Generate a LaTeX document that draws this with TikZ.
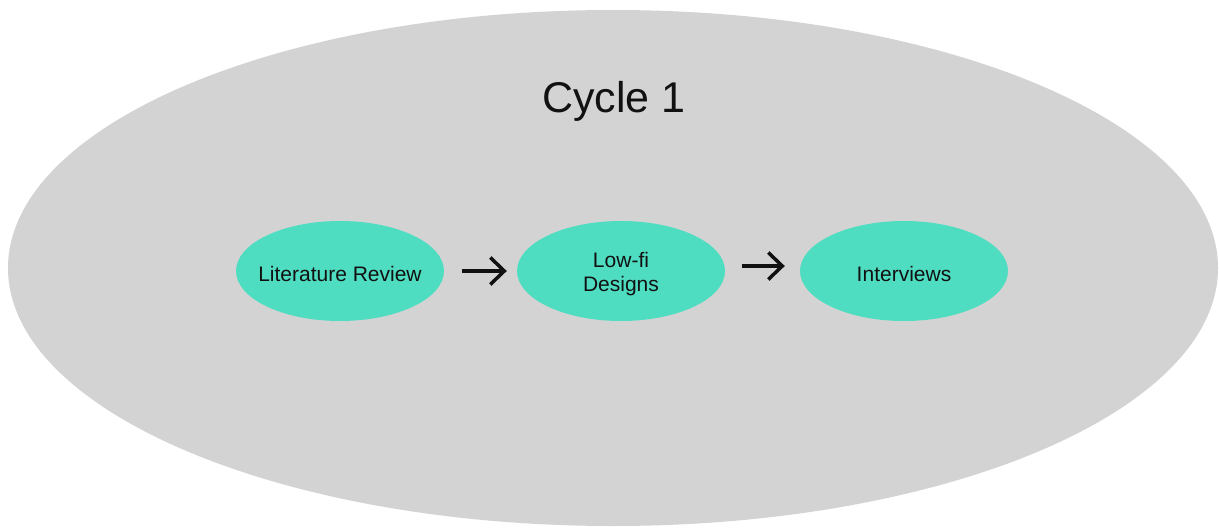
\documentclass[tikz,border=0pt]{standalone}
\usepackage{fontspec}
\setmainfont{Liberation Sans}
\usetikzlibrary{shapes.geometric,arrows.meta}

\definecolor{cyclegray}{RGB}{211,211,211}
\definecolor{steponteal}{RGB}{79,221,194}
\definecolor{inkdark}{RGB}{17,17,17}

\tikzset{
  cycleshape/.style={ellipse, fill=cyclegray, draw=none,
    minimum width=1210pt, minimum height=516pt, inner sep=0pt},
  stagebox/.style={ellipse, fill=steponteal, draw=none,
    minimum width=208pt, minimum height=100pt, inner sep=0pt,
    text=inkdark, align=center,
    font=\fontsize{21}{24}\selectfont},
  titletext/.style={text=inkdark, font=\fontsize{43}{50}\selectfont},
  flow/.style={draw=inkdark, line width=3.5pt,
    -{Straight Barb[length=14pt,width=27pt,line width=3.5pt]}},
}
% narrow label box (the ellipse keeps its fixed size), set a little low
\newcommand{\stagetext}[1]{\raisebox{-3pt}[\height][\depth]{\makebox[100pt][c]{#1}}}

\begin{document}
\begin{tikzpicture}[x=1pt,y=-1pt]
  \useasboundingbox (0,0) rectangle (1219,530);

  % outer cycle
  \node[cycleshape] (cycle) at (613,268) {};
  \node[titletext] (title) at (614,101) {Cycle 1};

  % stages
  \node[stagebox] (lit) at (340,271) {\stagetext{Literature Review}};
  \node[stagebox] (low) at (621,271) {\stagetext{Low-fi}\\\stagetext{Designs}};
  \node[stagebox] (int) at (904,271) {\stagetext{Interviews}};

  % flow between stages
  \draw[flow, shorten <=18pt, shorten >=10pt] (lit.east) -- (low.west);
  \draw[flow, shorten <=17pt, shorten >=15pt]
    ([yshift=5pt]low.east) -- ([yshift=5pt]int.west);
\end{tikzpicture}
\end{document}
